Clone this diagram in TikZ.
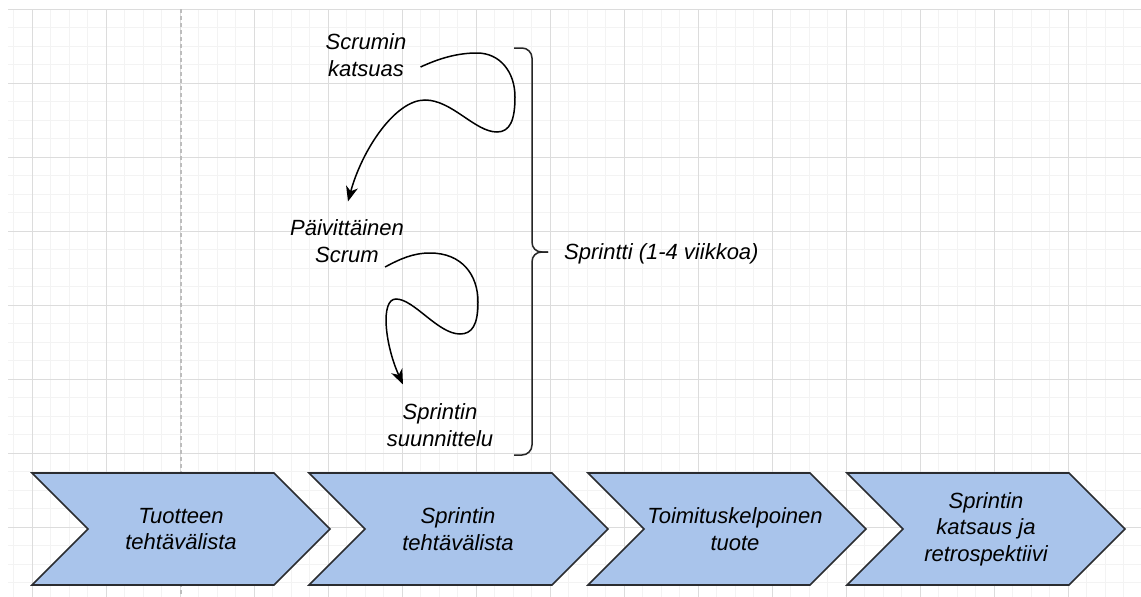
\documentclass[tikz,border=0pt]{standalone}
\usepackage{fontspec}
\setmainfont{Liberation Sans}
\usetikzlibrary{arrows.meta}
\definecolor{chevfill}{HTML}{A9C4EB}
\definecolor{chevline}{HTML}{2A2C30}
\definecolor{majorgridc}{HTML}{DCDCDC}
\definecolor{minorgridc}{HTML}{F3F3F3}
\definecolor{dashc}{HTML}{BDBDBD}
\tikzset{
  minorgrid/.style={draw=minorgridc, line width=1pt},
  majorgrid/.style={draw=majorgridc, line width=1pt},
  chevshape/.style={fill=chevfill, draw=chevline, line width=1.6pt, line join=miter},
  lbl/.style={font=\itshape\fontsize{22}{26.5}\selectfont, align=center, inner sep=0pt, text=black},
  curvearrow/.style={draw=black, line width=1.5pt, -{Stealth[length=15pt,width=12pt,inset=4.5pt]}},
  bracestyle/.style={draw=black!85, line width=1.5pt}
}
\newcommand\mychevron[2]{%
  \path[chevshape] (#1,473) -- ({#2-56},473) -- (#2,529) -- ({#2-56},585) -- (#1,585) -- ({#1+56},529) -- cycle;}
\begin{document}
\begin{tikzpicture}[x=1pt,y=-1pt]
\useasboundingbox (0,0) rectangle (1141,597);
\fill[white] (0,0) rectangle (1141,597);
% grid
\begin{scope}
\clip (8,9) rectangle (1141,597);
\foreach \i in {0,...,60} \draw[minorgrid] ({13.5+18.5*\i},9) -- ({13.5+18.5*\i},597);
\foreach \j in {0,...,31} \draw[minorgrid] (8,{9+18.5*\j}) -- (1141,{9+18.5*\j});
\foreach \i in {0,...,14} \draw[majorgrid] ({32+74*\i},9) -- ({32+74*\i},597);
\foreach \j in {0,...,7} \draw[majorgrid] (8,{9+74*\j}) -- (1141,{9+74*\j});
\draw[dashc, line width=1.2pt, dash pattern=on 4pt off 3pt] (181,9) -- (181,597);
\end{scope}
% chevrons
\mychevron{32}{330}
\mychevron{309}{608}
\mychevron{588}{866}
\mychevron{847}{1125}
\node[lbl] (c1) at (181,529) {Tuotteen\\tehtävälista};
\node[lbl] (c2) at (458,529) {Sprintin\\tehtävälista};
\node[lbl] (c3) at (735,529) {Toimituskelpoinen\\tuote};
\node[lbl] (c4) at (986,529) {Sprintin\\katsaus ja\\retrospektiivi};
% labels
\node[lbl] (sk) at (366,55) {Scrumin\\katsuas};
\node[lbl] (ps) at (347,241) {Päivittäinen\\Scrum};
\node[lbl] (ss) at (440,425) {Sprintin\\suunnittelu};
\node[lbl, anchor=west] (sp) at (564,254) {Sprintti (1-4 viikkoa)};
% curves
\coordinate (c1s) at ([shift={(14,12)}]sk.east);
\coordinate (c1e) at ([shift={(1,-18)}]ps.north);
\draw[curvearrow] (c1s) .. controls (440,58) and (458,53) .. (477,53)
  .. controls (500,53) and (515,72) .. (515,97)
  .. controls (515,120) and (510,132) .. (497,132)
  .. controls (475,132) and (452,100) .. (425,100)
  .. controls (395,100) and (362,150) .. (c1e);
\coordinate (c2s) at ([shift={(-19,26)}]ps.east);
\coordinate (c2e) at ([shift={(-37,-19)}]ss.north);
\draw[curvearrow] (c2s) .. controls (400,259) and (413,253) .. (430,253)
  .. controls (462,253) and (478,275) .. (478,302)
  .. controls (478,325) and (472,334) .. (460,334)
  .. controls (438,334) and (414,299) .. (396,299)
  .. controls (380,299) and (385,345) .. (c2e);
% brace
\coordinate (bt) at (514,48);
\coordinate (bb) at (514,455);
\coordinate (bm) at (548,252);
\draw[bracestyle] (bt) -- (522,48) arc[start angle=-90, end angle=0, radius=10] -- (532,242)
  .. controls (532,248) and (536,252) .. (542,252) -- (bm);
\draw[bracestyle] (bm) -- (542,252) .. controls (536,252) and (532,256) .. (532,262)
  -- (532,445) arc[start angle=0, end angle=90, radius=10] -- (bb);
\end{tikzpicture}
\end{document}
